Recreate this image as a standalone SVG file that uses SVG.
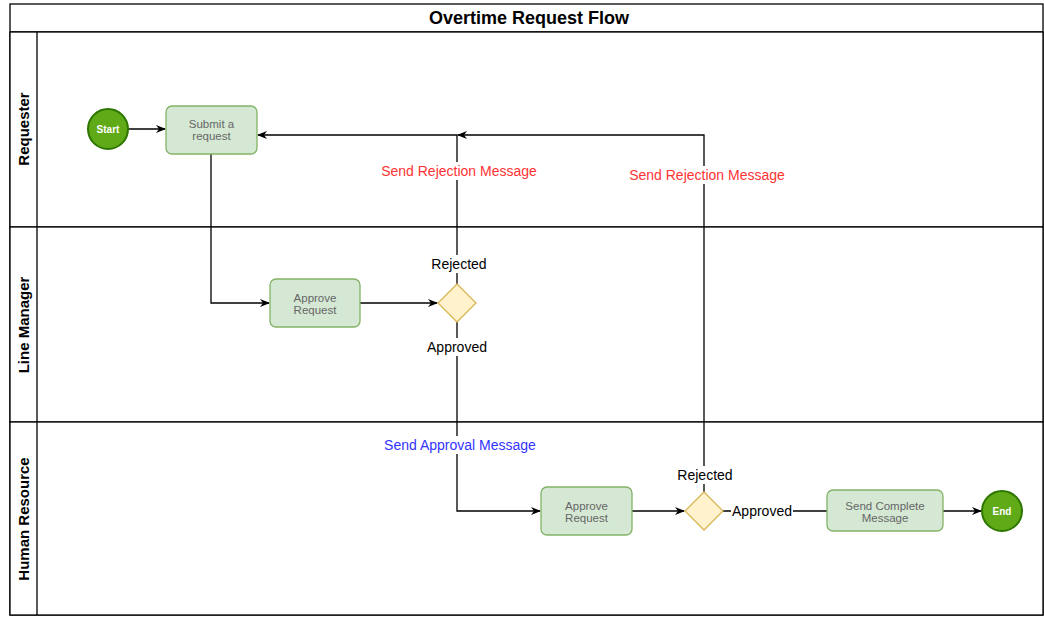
<svg xmlns="http://www.w3.org/2000/svg" width="1044" height="617" viewBox="0 0 1044 617">
<defs>
<marker id="arr" viewBox="0 0 10 10" refX="9" refY="5" markerWidth="10" markerHeight="10" markerUnits="userSpaceOnUse" orient="auto">
<path d="M0,1 L10,5 L0,9 L3,5 Z" fill="#000"/>
</marker>
<style>
.frame{fill:#fff;stroke:#000;stroke-width:1.3}
.lane{font-family:"Liberation Sans",Arial,sans-serif;font-weight:bold;font-size:15px;fill:#000;text-anchor:middle}
.task{fill:#d5e8d4;stroke:#82b366;stroke-width:1.3}
.tt{font-family:"Liberation Sans",Arial,sans-serif;font-size:11.5px;fill:#666;text-anchor:middle}
.gw{fill:#fff2cc;stroke:#d6b656;stroke-width:1.3}
.ev{fill:#60a917;stroke:#2d7600;stroke-width:2}
.et{font-family:"Liberation Sans",Arial,sans-serif;font-size:10px;font-weight:bold;fill:#fff;text-anchor:middle}
.e{fill:none;stroke:#000;stroke-width:1.3}
.lbl{font-family:"Liberation Sans",Arial,sans-serif;font-size:14px;text-anchor:middle}
</style>
</defs>
<rect width="1044" height="617" fill="#fff"/>
<g id="pool">
<rect class="frame" x="10" y="4" width="1033" height="611"/>
<line x1="10" y1="32" x2="1043" y2="32" stroke="#000" stroke-width="1.3"/>
<text x="529" y="24" font-family="Liberation Sans, Arial, sans-serif" font-weight="bold" font-size="18" text-anchor="middle">Overtime Request Flow</text>
</g>
<g id="lane-requester">
<rect class="frame" x="10" y="32" width="1033" height="195"/>
<line x1="37" y1="32" x2="37" y2="227" stroke="#000" stroke-width="1.3"/>
<text class="lane" transform="translate(29,129) rotate(-90)">Requester</text>
</g>
<g id="lane-linemanager">
<rect class="frame" x="10" y="227" width="1033" height="195"/>
<line x1="37" y1="227" x2="37" y2="422" stroke="#000" stroke-width="1.3"/>
<text class="lane" transform="translate(29,325) rotate(-90)">Line Manager</text>
</g>
<g id="lane-hr">
<rect class="frame" x="10" y="422" width="1033" height="193"/>
<line x1="37" y1="422" x2="37" y2="615" stroke="#000" stroke-width="1.3"/>
<text class="lane" transform="translate(29,519) rotate(-90)">Human Resource</text>
</g>
<g id="connectors">
<path class="e" d="M128,129 L165,129" marker-end="url(#arr)"/>
<path class="e" d="M211,154 L211,303 L269,303" marker-end="url(#arr)"/>
<path class="e" d="M360,303 L437,303" marker-end="url(#arr)"/>
<path class="e" d="M457,284 L457,135 L258,135" marker-end="url(#arr)"/>
<path class="e" d="M704,492 L704,135 L458,135" marker-end="url(#arr)"/>
<path class="e" d="M457,322 L457,511 L540,511" marker-end="url(#arr)"/>
<path class="e" d="M632,511 L684,511" marker-end="url(#arr)"/>
<path class="e" d="M723,511 L827,511"/>
<path class="e" d="M943,511 L981,511" marker-end="url(#arr)"/>
<g class="lbl">
<rect x="428" y="255" width="62" height="18" fill="#fff"/>
<text x="459" y="269">Rejected</text>
<rect x="423" y="338" width="68" height="18" fill="#fff"/>
<text x="457" y="352">Approved</text>
<rect x="378" y="162" width="162" height="18" fill="#fff"/>
<text x="459" y="176" fill="#ff3333">Send Rejection Message</text>
<rect x="626" y="166" width="162" height="18" fill="#fff"/>
<text x="707" y="180" fill="#ff3333">Send Rejection Message</text>
<rect x="381" y="436" width="158" height="18" fill="#fff"/>
<text x="460" y="450" fill="#3333ff">Send Approval Message</text>
<rect x="674" y="466" width="62" height="18" fill="#fff"/>
<text x="705" y="480">Rejected</text>
<rect x="731" y="502" width="62" height="18" fill="#fff"/>
<text x="762" y="516">Approved</text>
</g>
</g>
<g id="start">
<circle class="ev" cx="108" cy="129" r="20"/>
<text class="et" x="108" y="133">Start</text>
</g>
<g id="submit">
<rect class="task" x="166" y="106" width="91" height="48" rx="6"/>
<text class="tt" x="211.5" y="128">Submit a</text>
<text class="tt" x="211.5" y="140">request</text>
</g>
<g id="approve-lm">
<rect class="task" x="270" y="279" width="90" height="48" rx="6"/>
<text class="tt" x="315" y="302">Approve</text>
<text class="tt" x="315" y="314">Request</text>
</g>
<g id="gateway-lm">
<path class="gw" d="M457,284 L476,303 L457,322 L438,303 Z"/>
</g>
<g id="approve-hr">
<rect class="task" x="541" y="487" width="91" height="48" rx="6"/>
<text class="tt" x="586.5" y="510">Approve</text>
<text class="tt" x="586.5" y="522">Request</text>
</g>
<g id="gateway-hr">
<path class="gw" d="M704,492 L723,511 L704,530 L685,511 Z"/>
</g>
<g id="send-complete">
<rect class="task" x="827" y="490" width="116" height="41" rx="6"/>
<text class="tt" x="885" y="510">Send Complete</text>
<text class="tt" x="885" y="522">Message</text>
</g>
<g id="end">
<circle class="ev" cx="1002" cy="511" r="20"/>
<text class="et" x="1002" y="515">End</text>
</g>
</svg>
